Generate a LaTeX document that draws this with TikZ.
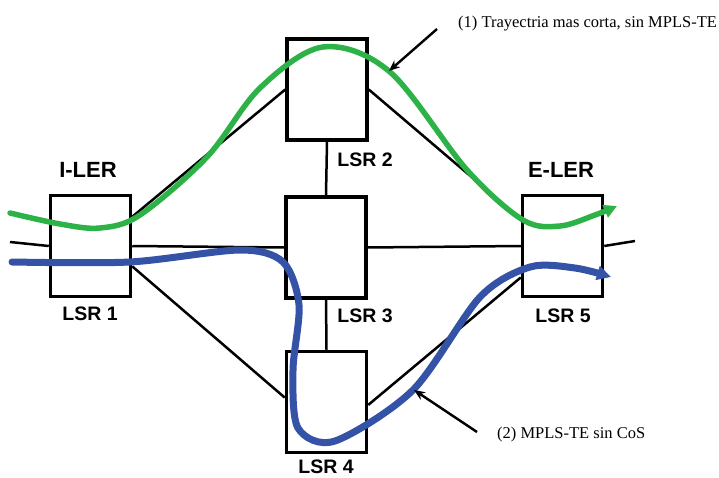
\documentclass[tikz,border=0pt]{standalone}
\usepackage{fontspec}
\setmainfont{Liberation Serif}
\newfontfamily\labfont{Liberation Sans}
\usetikzlibrary{arrows.meta}
\definecolor{pgreen}{RGB}{45,178,72}
\definecolor{pblue}{RGB}{52,82,166}
\begin{document}
\begin{tikzpicture}[x=1pt,y=-1pt,
  router/.style={draw=black,line width=3.5pt,fill=white,minimum width=80pt,minimum height=101pt,inner sep=0pt},
  link/.style={draw=black,line width=2.5pt},
  lbl/.style={font=\labfont\bfseries\fontsize{19.5}{22}\selectfont,inner sep=0pt},
  ler/.style={font=\labfont\bfseries\fontsize{22}{25}\selectfont,inner sep=0pt},
  note/.style={font=\fontsize{16.5}{19}\selectfont,inner sep=0pt},
  noteline/.style={draw=black,line width=2.4pt,-{Stealth[length=11pt,width=9pt]}},
  route/.style={line width=5.5pt,line cap=round,line join=round}]
\useasboundingbox (0,0) rectangle (719,478);
% routers
\node[router] (l1) at (90.5,246) {};
\node[router] (l2) at (327,89.5) {};
\node[router] (l3) at (326,247.5) {};
\node[router] (l4) at (326.5,402) {};
\node[router] (l5) at (562.5,246) {};
% labels
\node[ler] (t1) at (88,170) {I-LER};
\node[lbl] (t2) at (90,314) {LSR 1};
\node[lbl] (t3) at (365,160) {LSR 2};
\node[lbl] (t4) at (365,316) {LSR 3};
\node[lbl] (t5) at (326,467) {LSR 4};
\node[ler] (t6) at (561,170) {E-LER};
\node[lbl] (t7) at (563,316) {LSR 5};
% links
\coordinate (inL) at (10,242);
\coordinate (outR) at (635,241);
\draw[link] (inL) -- (l1.west);
\draw[link] (l1.east) -- (l3.west);
\draw[link] (l3.east) -- (l5.west);
\draw[link] (l5.east) -- (outR);
\draw[link] (l1.35) -- (l2.west);
\draw[link] (l1.-26) -- (l4.174);
\draw[link] (l2.east) -- (l5.147);
\draw[link] (l4.-4) -- (l5.217);
\draw[link] (l2.south) -- (l3.north);
\draw[link] (l3.south) -- (l4.north);
% green route
\draw[route,draw=pgreen,-{Triangle[length=13pt,width=13pt]}]
  plot[smooth,tension=0.55] coordinates {(10,213) (60,224) (100,228) (140,215) (207,157) (260,88) (323,47) (390,72) (467,170) (523,220) (560,226) (595,215) (617,206)};
% blue route
\draw[route,draw=pblue,line width=7pt,-{Triangle[length=14pt,width=14pt]}]
  plot[smooth,tension=0.5] coordinates {(12,262) (130,262) (240,250) (283,262) (299,305) (293,370) (298,428) (335,441) (413,390) (480,297) (530,267) (575,268) (611,277)};
% annotations
\node[note,anchor=west] (n1) at (458,24) {(1) Trayectria mas corta, sin MPLS-TE};
\node[note,anchor=west] (n2) at (497,435) {(2) MPLS-TE sin CoS};
\coordinate (a1s) at (437,29);
\coordinate (a1e) at (389,71);
\coordinate (a2s) at (477,432);
\coordinate (a2e) at (414,390);
\draw[noteline] (a1s) -- (a1e);
\draw[noteline] (a2s) -- (a2e);
\end{tikzpicture}
\end{document}
